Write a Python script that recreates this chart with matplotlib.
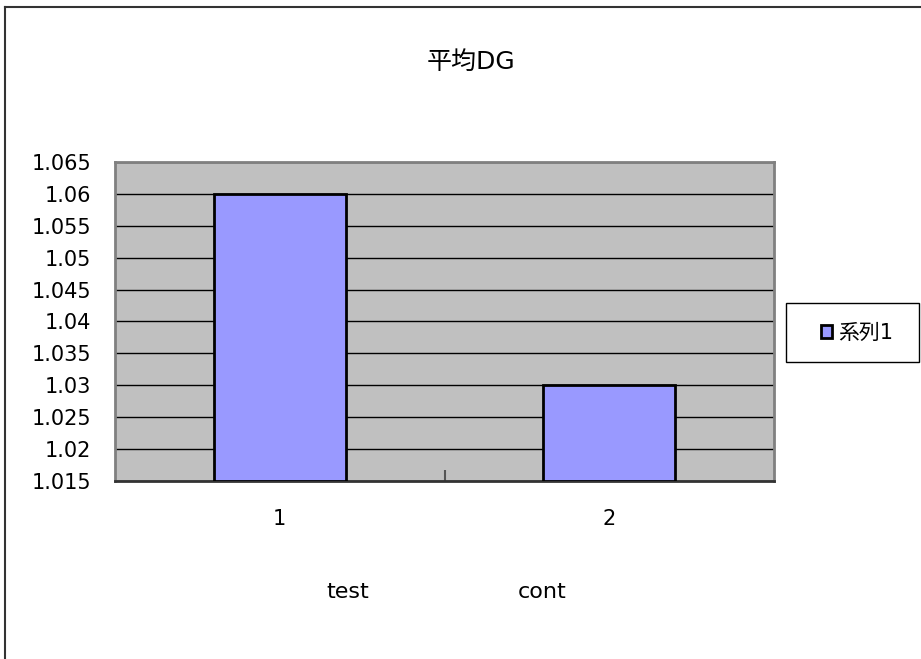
import matplotlib
matplotlib.use("Agg")
import matplotlib.pyplot as plt
from matplotlib.lines import Line2D
from matplotlib.patches import Rectangle

plt.rcParams['font.family'] = ['DejaVu Sans', 'Noto Sans CJK JP']

categories = ["1", "2"]
values = [1.06, 1.03]
series_name = "系列1"
title = "平均DG"
xlabel_parts = ["test", "cont"]
yticks = [1.015, 1.02, 1.025, 1.03, 1.035, 1.04, 1.045, 1.05, 1.055, 1.06, 1.065]
ytick_labels = ["1.015", "1.02", "1.025", "1.03", "1.035", "1.04", "1.045", "1.05", "1.055", "1.06", "1.065"]

W, H = 921, 659
fig = plt.figure(figsize=(W / 100, H / 100), dpi=100)

# outer chart border (top and left visible, others cut off)
fig.add_artist(Line2D([5 / W, 5 / W], [0, 1 - 7 / H], transform=fig.transFigure, color="#333333", lw=1.5))
fig.add_artist(Line2D([5 / W, 1], [1 - 7 / H, 1 - 7 / H], transform=fig.transFigure, color="#333333", lw=1.5))

left, right, top, bottom = 115, 774, 162, 481
ax = fig.add_axes([left / W, 1 - bottom / H, (right - left) / W, (bottom - top) / H])
ax.set_facecolor("#c0c0c0")

x = [1, 2]
ax.bar(x, [v - yticks[0] for v in values], bottom=yticks[0], width=0.4,
       color="#9999ff", edgecolor="black", linewidth=2, zorder=3, label=series_name)

ax.set_xlim(0.5, 2.5)
ax.set_ylim(yticks[0], yticks[-1])
ax.set_yticks(yticks)
ax.set_yticklabels(ytick_labels, fontsize=15)
ax.yaxis.grid(True, color="black", linewidth=1, zorder=1)
ax.tick_params(axis="y", length=0, pad=17)

ax.set_xticks(x)
ax.set_xticklabels(categories, fontsize=15)
ax.tick_params(axis="x", length=0, pad=20)
ax.set_xticks([1.5], minor=True)
ax.tick_params(axis="x", which="minor", direction="in", length=8, width=1.5, color="#555555")

for s in ax.spines.values():
    s.set_color("#808080")
    s.set_linewidth(2)
ax.spines["bottom"].set_color("#333333")

# axis title (two words spaced apart)
fig.text(348 / W, 1 - 592 / H, xlabel_parts[0], fontsize=16, ha="center", va="center")
fig.text(542 / W, 1 - 592 / H, xlabel_parts[1], fontsize=16, ha="center", va="center")

fig.text(471 / W, 1 - 62 / H, title, fontsize=18, ha="center", va="center")

# legend box
fig.add_artist(Rectangle((786 / W, 1 - 362 / H), (919 - 786) / W, (362 - 303) / H,
                         transform=fig.transFigure, facecolor="white", edgecolor="black", lw=1))
leg = fig.legend(loc="center", bbox_to_anchor=(857 / W, 1 - 333 / H), bbox_transform=fig.transFigure,
                 fontsize=15, frameon=False, handlelength=0.55, handleheight=0.55,
                 handletextpad=0.3, borderpad=0, borderaxespad=0)
for p in leg.get_patches():
    p.set_linewidth(2)

fig.savefig("out.png", dpi=100)
